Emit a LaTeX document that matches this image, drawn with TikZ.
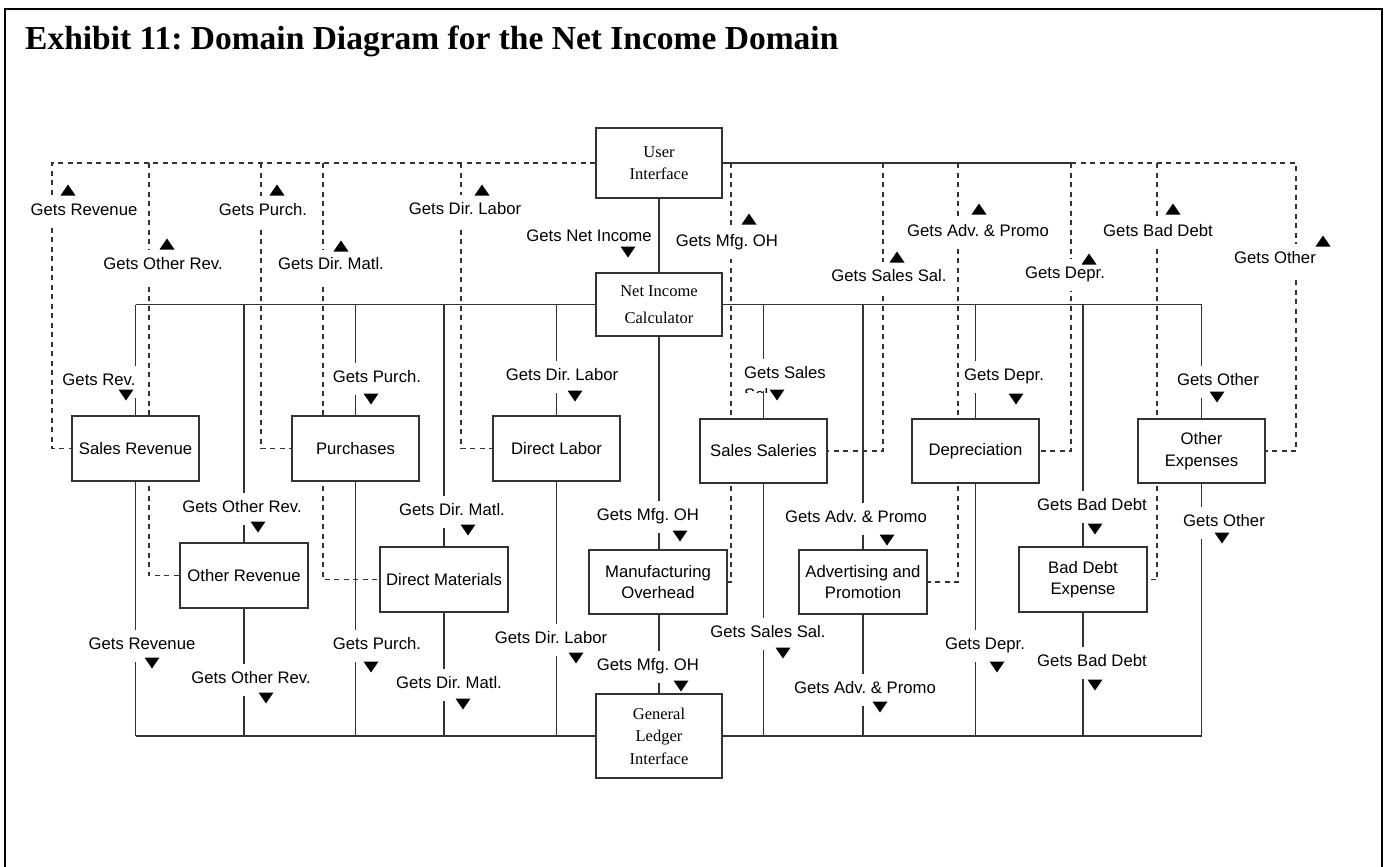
\documentclass[tikz,border=0pt]{standalone}
\usepackage{fontspec}
\setmainfont{Liberation Serif}
\newfontfamily\arialish{Liberation Sans}
\pgfdeclarelayer{wires}
\pgfsetlayers{wires,main}
\frenchspacing
\begin{document}
\begin{tikzpicture}[x=1pt,y=-1pt,
  conn/.style={draw=black!80,line width=1.3pt},
  link/.style={conn,dash pattern=on 5pt off 4.5pt},
  box/.style={draw=black!80,line width=1.3pt,fill=white,minimum width=127pt,
    minimum height=65pt,inner sep=0pt,align=center,
    font=\arialish\fontsize{16.7}{21.5}\selectfont},
  sbox/.style={box,minimum width=126pt,font=\fontsize{16.5}{22.5}\selectfont},
  lbl/.style={fill=white,inner xsep=1pt,inner ysep=1pt,text height=18pt,
    text depth=12pt,anchor=base,font=\arialish\fontsize{16.7}{20}\selectfont},
  up/.pic={\fill (-7.5,5.5) -- (7.5,5.5) -- (0,-5.5) -- cycle;},
  dn/.pic={\fill (-7.5,-5.5) -- (7.5,-5.5) -- (0,5.5) -- cycle;}
]
\useasboundingbox (0,0) rectangle (1384,867);

% outer frame, open at the bottom
\draw[line width=2.5pt] (5,875) -- (5,9) -- (1382,9) -- (1382,875);
\node[anchor=base west,inner sep=0pt,font=\bfseries\fontsize{33.5}{40}\selectfont]
  (title) at (25,50) {Exhibit 11: Domain Diagram for the Net Income Domain};

% domain boxes
\node[sbox,minimum height=70pt] (ui)  at (659,163)   {User\\Interface};
\node[sbox,minimum height=63pt] (nic) at (659,304.5) {Net Income\\[4.5pt]Calculator};
\node[sbox,minimum height=84pt] (gli) at (659,736)   {General\\Ledger\\Interface};

\node[box] (sr) at (135.5,448.5) {Sales Revenue};
\node[box] (pu) at (355.5,448.5) {Purchases};
\node[box] (dl) at (556.5,448.5) {Direct Labor};
\node[box,minimum height=64pt] (ss) at (763.5,451) {Sales Saleries};
\node[box,minimum height=64pt] (de) at (975.5,451) {Depreciation};
\node[box,minimum height=64pt] (oe) at (1201.5,451) {Other\\Expenses};

\node[box,minimum width=128pt] (or) at (244,575.5) {Other Revenue};
\node[box,minimum width=128pt] (dm) at (444,579.5) {Direct Materials};
\node[box,minimum width=138pt,minimum height=64pt] (mo) at (658,582) {Manufacturing\\Overhead};
\node[box,minimum width=128pt,minimum height=64pt] (ap) at (863,582) {Advertising and\\Promotion};
\node[box,minimum width=128pt] (bd) at (1083,579.5) {Bad Debt\\Expense};

% junctions on the user-interface line
\coordinate (dsr) at (52,163);
\coordinate (dor) at (149,163);
\coordinate (dpu) at (261,163);
\coordinate (ddm) at (323,163);
\coordinate (ddl) at (461,163);
\coordinate (dmo) at (731,163);
\coordinate (dss) at (883,163);
\coordinate (dap) at (958,163);
\coordinate (dde) at (1071,163);
\coordinate (dbd) at (1157,163);
\coordinate (doe) at (1296,163);

\begin{pgfonlayer}{wires}
% user interface links (dashed)
\draw[link] (ui.west) -- (dsr) |- (sr.west);
\draw[link] (dor) |- (or.west);
\draw[link] (dpu) |- (pu.west);
\draw[link] (ddm) |- (dm.west);
\draw[link] (ddl) |- (dl.west);
\draw[conn] (ui.east) -- (dde);
\draw[link] (dde) -- (doe) |- (oe.east);
\draw[link] (dde) |- (de.east);
\draw[link] (dmo) |- (mo.east);
\draw[link] (dss) |- (ss.east);
\draw[link] (dap) |- (ap.east);
\draw[link] (dbd) |- (bd.east);

% calculator and ledger buses (solid)
\draw[conn] (ui.south) -- (nic.north);
\draw[conn] (sr |- nic) -- (oe |- nic);
\draw[conn] (sr |- gli) -- (oe |- gli);
\draw[conn] (nic) -- (gli);
\foreach \b in {sr,or,pu,dm,dl,ss,ap,de,bd,oe}
  \draw[conn] (\b |- nic) -- (\b |- gli);
\end{pgfonlayer}

% flow labels: upper band
\node[lbl] (t1)  at (84,215)   {Gets Revenue};
\node[lbl] (t2)  at (163,269)  {Gets Other Rev.};
\node[lbl] (t3)  at (263,215)  {Gets Purch.};
\node[lbl] (t4)  at (331,269)  {Gets Dir. Matl.};
\node[lbl] (t5)  at (465,214)  {Gets Dir. Labor};
\node[lbl] (t6)  at (589,241)  {Gets Net Income};
\node[lbl] (t7)  at (727,246)  {Gets Mfg. OH};
\node[lbl] (t8)  at (889,281)  {Gets Sales Sal.};
\node[lbl] (t9)  at (978,236)  {Gets Adv. \& Promo};
\node[lbl] (t10) at (1065,278) {Gets Depr.};
\node[lbl] (t11) at (1158,236) {Gets Bad Debt};
\node[lbl] (t12) at (1275,263) {Gets Other};

% flow labels: above the first row of domains
\node[lbl] (m1) at (99,385)   {Gets Rev.};
\node[lbl] (m2) at (377,382)  {Gets Purch.};
\node[lbl] (m3) at (562,380)  {Gets Dir. Labor};
\node[lbl] (m4) at (785,378)  {Gets Sales};
\begin{scope}
  \clip (740,380) rectangle (830,392);
  \node[anchor=base west,inner sep=0pt,font=\arialish\fontsize{16.7}{20}\selectfont]
    (m4b) at (744,400) {Sal.};
\end{scope}
\node[lbl] (m5) at (1004,380) {Gets Depr.};
\node[lbl] (m6) at (1218,385) {Gets Other};

% flow labels: above the second row of domains
\node[lbl] (n1) at (242,512)  {Gets Other Rev.};
\node[lbl] (n2) at (452,515)  {Gets Dir. Matl.};
\node[lbl] (n3) at (648,520)  {Gets Mfg. OH};
\node[lbl] (n4) at (856,522)  {Gets Adv. \& Promo};
\node[lbl] (n5) at (1092,510) {Gets Bad Debt};
\node[lbl] (n6) at (1224,526) {Gets Other};

% flow labels: towards the ledger
\node[lbl] (b1)  at (142,649)  {Gets Revenue};
\node[lbl] (b2)  at (251,683)  {Gets Other Rev.};
\node[lbl] (b3)  at (377,649)  {Gets Purch.};
\node[lbl] (b4)  at (449,688)  {Gets Dir. Matl.};
\node[lbl] (b5)  at (551,643)  {Gets Dir. Labor};
\node[lbl] (b6)  at (648,670)  {Gets Mfg. OH};
\node[lbl] (b7)  at (768,637)  {Gets Sales Sal.};
\node[lbl] (b8)  at (865,693)  {Gets Adv. \& Promo};
\node[lbl] (b9)  at (985,649)  {Gets Depr.};
\node[lbl] (b10) at (1092,666) {Gets Bad Debt};

% direction markers
\foreach \p in {(68,190),(167,244),(277,190),(341,246),(482,190),(749,219),
                (897,257),(979,209),(1089,259),(1173,209),(1323,241)}
  \pic at \p {up};
\foreach \p in {(628,252),
                (126,395),(371,399),(575,396),(777,395),(1016,399),(1217,397),
                (258,527),(468,530),(680,536),(887,540),(1095,529),(1222,538),
                (152,663),(266,698),(371,667),(463,704),(576,658),(681,686),
                (783,653),(880,707),(997,667),(1095,685)}
  \pic at \p {dn};
\end{tikzpicture}
\end{document}
